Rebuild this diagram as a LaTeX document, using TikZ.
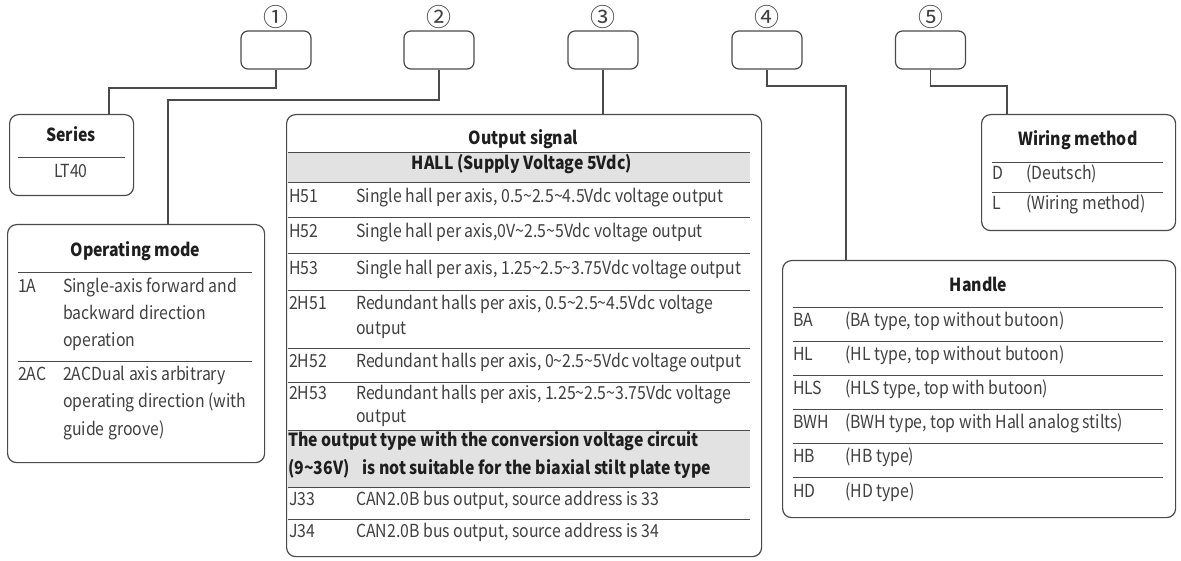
\documentclass[tikz,border=0pt]{standalone}
\usepackage{fontspec}
\setmainfont[FakeStretch=0.88]{Noto Sans CJK SC}
\newfontfamily\numfont{Noto Sans CJK SC}
\definecolor{txt}{HTML}{404040}
\definecolor{ttl}{HTML}{1E1E1E}
\definecolor{edge}{HTML}{4A4A4A}
\definecolor{band}{HTML}{E2E2E2}
\newcommand\wave{\textasciitilde}
\begin{document}
\begin{tikzpicture}[x=1pt,y=-1pt,
  topbox/.style={draw=edge,line width=1.2,rounded corners=7,minimum width=70,minimum height=38,inner sep=0},
  panel/.style={draw=edge,line width=1.2,rounded corners=9,anchor=north west,inner sep=0},
  conn/.style={draw=edge,line width=1.2},
  rule/.style={draw=edge,line width=0.9},
  num/.style={font=\numfont\fontsize{25}{25}\selectfont,text=txt,inner sep=0},
  ttlt/.style={font=\fontsize{18}{20}\selectfont\bfseries,text=ttl,inner sep=0,anchor=mid},
  bandt/.style={font=\fontsize{18}{20}\selectfont\bfseries,text=ttl,inner sep=0,anchor=mid west},
  cell/.style={font=\fontsize{18}{20}\selectfont,text=txt,inner sep=0,anchor=mid west},
  cellc/.style={font=\fontsize{18}{20}\selectfont,text=txt,inner sep=0,anchor=mid},
]
\useasboundingbox (0,0) rectangle (1181,561);

% top boxes and numbers
\node[topbox] (b1) at (276,50) {};
\node[topbox] (b2) at (439,50) {};
\node[topbox] (b3) at (603,50) {};
\node[topbox] (b4) at (767,50) {};
\node[topbox] (b5) at (930.5,50) {};
\node[num] (n1) at (276,17) {①};
\node[num] (n2) at (439,17) {②};
\node[num] (n3) at (603,17) {③};
\node[num] (n4) at (767,17) {④};
\node[num] (n5) at (930.5,17) {⑤};

% panels
\node[panel,minimum width=124,minimum height=81] (series) at (9,114) {};
\node[panel,minimum width=257,minimum height=238] (opmode) at (7,224) {};
\node[panel,minimum width=475,minimum height=442] (output) at (286,114) {};
\node[panel,minimum width=194,minimum height=116] (wiring) at (981,114) {};
\node[panel,minimum width=393,minimum height=257] (handle) at (782,260) {};

% connectors
\coordinate (k1) at (109,88);
\coordinate (k2) at (168,100);
\coordinate (k4) at (846,86);
\coordinate (k5) at (1007,86);
\draw[conn] (b1.south) |- (k1) -- (k1 |- series.north);
\draw[conn] (b2.south) |- (k2) -- (k2 |- opmode.north);
\draw[conn] (b3.south) -- (b3.south |- output.north);
\draw[conn] (b4.south) |- (k4) -- (k4 |- handle.north);
\draw[conn] (b5.south) |- (k5) -- (k5 |- wiring.north);

% Series
\node[ttlt] (t-series) at (71,139) {Series};
\draw[rule] (18,157) -- (125,157);
\node[cellc] (lt40) at (71,175) {LT40};

% Operating mode
\node[ttlt] (t-op) at (135.5,254) {Operating mode};
\draw[rule] (18,272) -- (252,272);
\node[cell] (op1c) at (18,290) {1A};
\node[cell] (op1a) at (63,290) {Single-axis forward and};
\node[cell] (op1b) at (63,317) {backward direction};
\node[cell] (op1d) at (63,344) {operation};
\draw[rule] (18,361) -- (252,361);
\node[cell] (op2c) at (18,378) {2AC};
\node[cell] (op2a) at (63,378) {2ACDual axis arbitrary};
\node[cell] (op2b) at (63,405) {operating direction (with};
\node[cell] (op2d) at (63,433) {guide groove)};

% Output signal
\fill[band] (288,152) rectangle (750,182);
\fill[band] (288,430) rectangle (750,487);
\node[ttlt] (t-out) at (523.5,142) {Output signal};
\draw[rule] (288,152) -- (750,152);
\node[ttlt] (t-hall) at (522,167) {HALL (Supply Voltage 5Vdc)};
\draw[rule] (288,182) -- (750,182);
\node[cell] (o1c) at (289,200) {H51};
\node[cell] (o1) at (356,200) {Single hall per axis, 0.5\wave2.5\wave4.5Vdc voltage output};
\draw[rule] (288,217) -- (750,217);
\node[cell] (o2c) at (289,235) {H52};
\node[cell] (o2) at (356,235) {Single hall per axis,0V\wave2.5\wave5Vdc voltage output};
\draw[rule] (288,253) -- (750,253);
\node[cell] (o3c) at (289,272) {H53};
\node[cell] (o3) at (356,272) {Single hall per axis, 1.25\wave2.5\wave3.75Vdc voltage output};
\draw[rule] (288,290) -- (750,290);
\node[cell] (o4c) at (289,307) {2H51};
\node[cell] (o4) at (356,307) {Redundant halls per axis, 0.5\wave2.5\wave4.5Vdc voltage};
\node[cell] (o4b) at (356,332) {output};
\draw[rule] (288,348) -- (750,348);
\node[cell] (o5c) at (289,365) {2H52};
\node[cell] (o5) at (356,365) {Redundant halls per axis, 0\wave2.5\wave5Vdc voltage output};
\draw[rule] (288,382) -- (750,382);
\node[cell] (o6c) at (289,397) {2H53};
\node[cell] (o6) at (356,397) {Redundant halls per axis, 1.25\wave2.5\wave3.75Vdc voltage};
\node[cell] (o6b) at (356,420) {output};
\draw[rule] (288,430) -- (750,430);
\node[bandt] (w1) at (288,444) {The output type with the conversion voltage circuit};
\node[bandt] (w2) at (288,472) {(9\wave36V)\hspace{0.7em}is not suitable for the biaxial stilt plate type};
\draw[rule] (288,487) -- (750,487);
\node[cell] (o7c) at (289,503) {J33};
\node[cell] (o7) at (356,503) {CAN2.0B bus output, source address is 33};
\draw[rule] (288,519) -- (750,519);
\node[cell] (o8c) at (289,535) {J34};
\node[cell] (o8) at (356,535) {CAN2.0B bus output, source address is 34};

% Wiring method
\node[ttlt] (t-wire) at (1078,143) {Wiring method};
\draw[rule] (992,162) -- (1163,162);
\node[cell] (wdc) at (992,177) {D};
\node[cell] (wd) at (1026,177) {(Deutsch)};
\draw[rule] (992,192) -- (1163,192);
\node[cell] (wlc) at (992,207) {L};
\node[cell] (wl) at (1026,207) {(Wiring method)};

% Handle
\node[ttlt] (t-hand) at (978.5,289) {Handle};
\draw[rule] (793,307) -- (1163,307);
\node[cell] (h1c) at (793,324) {BA};
\node[cell] (h1) at (845,324) {(BA type, top without butoon)};
\draw[rule] (793,341) -- (1163,341);
\node[cell] (h2c) at (793,358) {HL};
\node[cell] (h2) at (845,358) {(HL type, top without butoon)};
\draw[rule] (793,375) -- (1163,375);
\node[cell] (h3c) at (793,392) {HLS};
\node[cell] (h3) at (845,392) {(HLS type, top with butoon)};
\draw[rule] (793,409) -- (1163,409);
\node[cell] (h4c) at (793,426) {BWH};
\node[cell] (h4) at (845,426) {(BWH type, top with Hall analog stilts)};
\draw[rule] (793,443) -- (1163,443);
\node[cell] (h5c) at (793,460) {HB};
\node[cell] (h5) at (845,460) {(HB type)};
\draw[rule] (793,477) -- (1163,477);
\node[cell] (h6c) at (793,495) {HD};
\node[cell] (h6) at (845,495) {(HD type)};
\end{tikzpicture}
\end{document}
